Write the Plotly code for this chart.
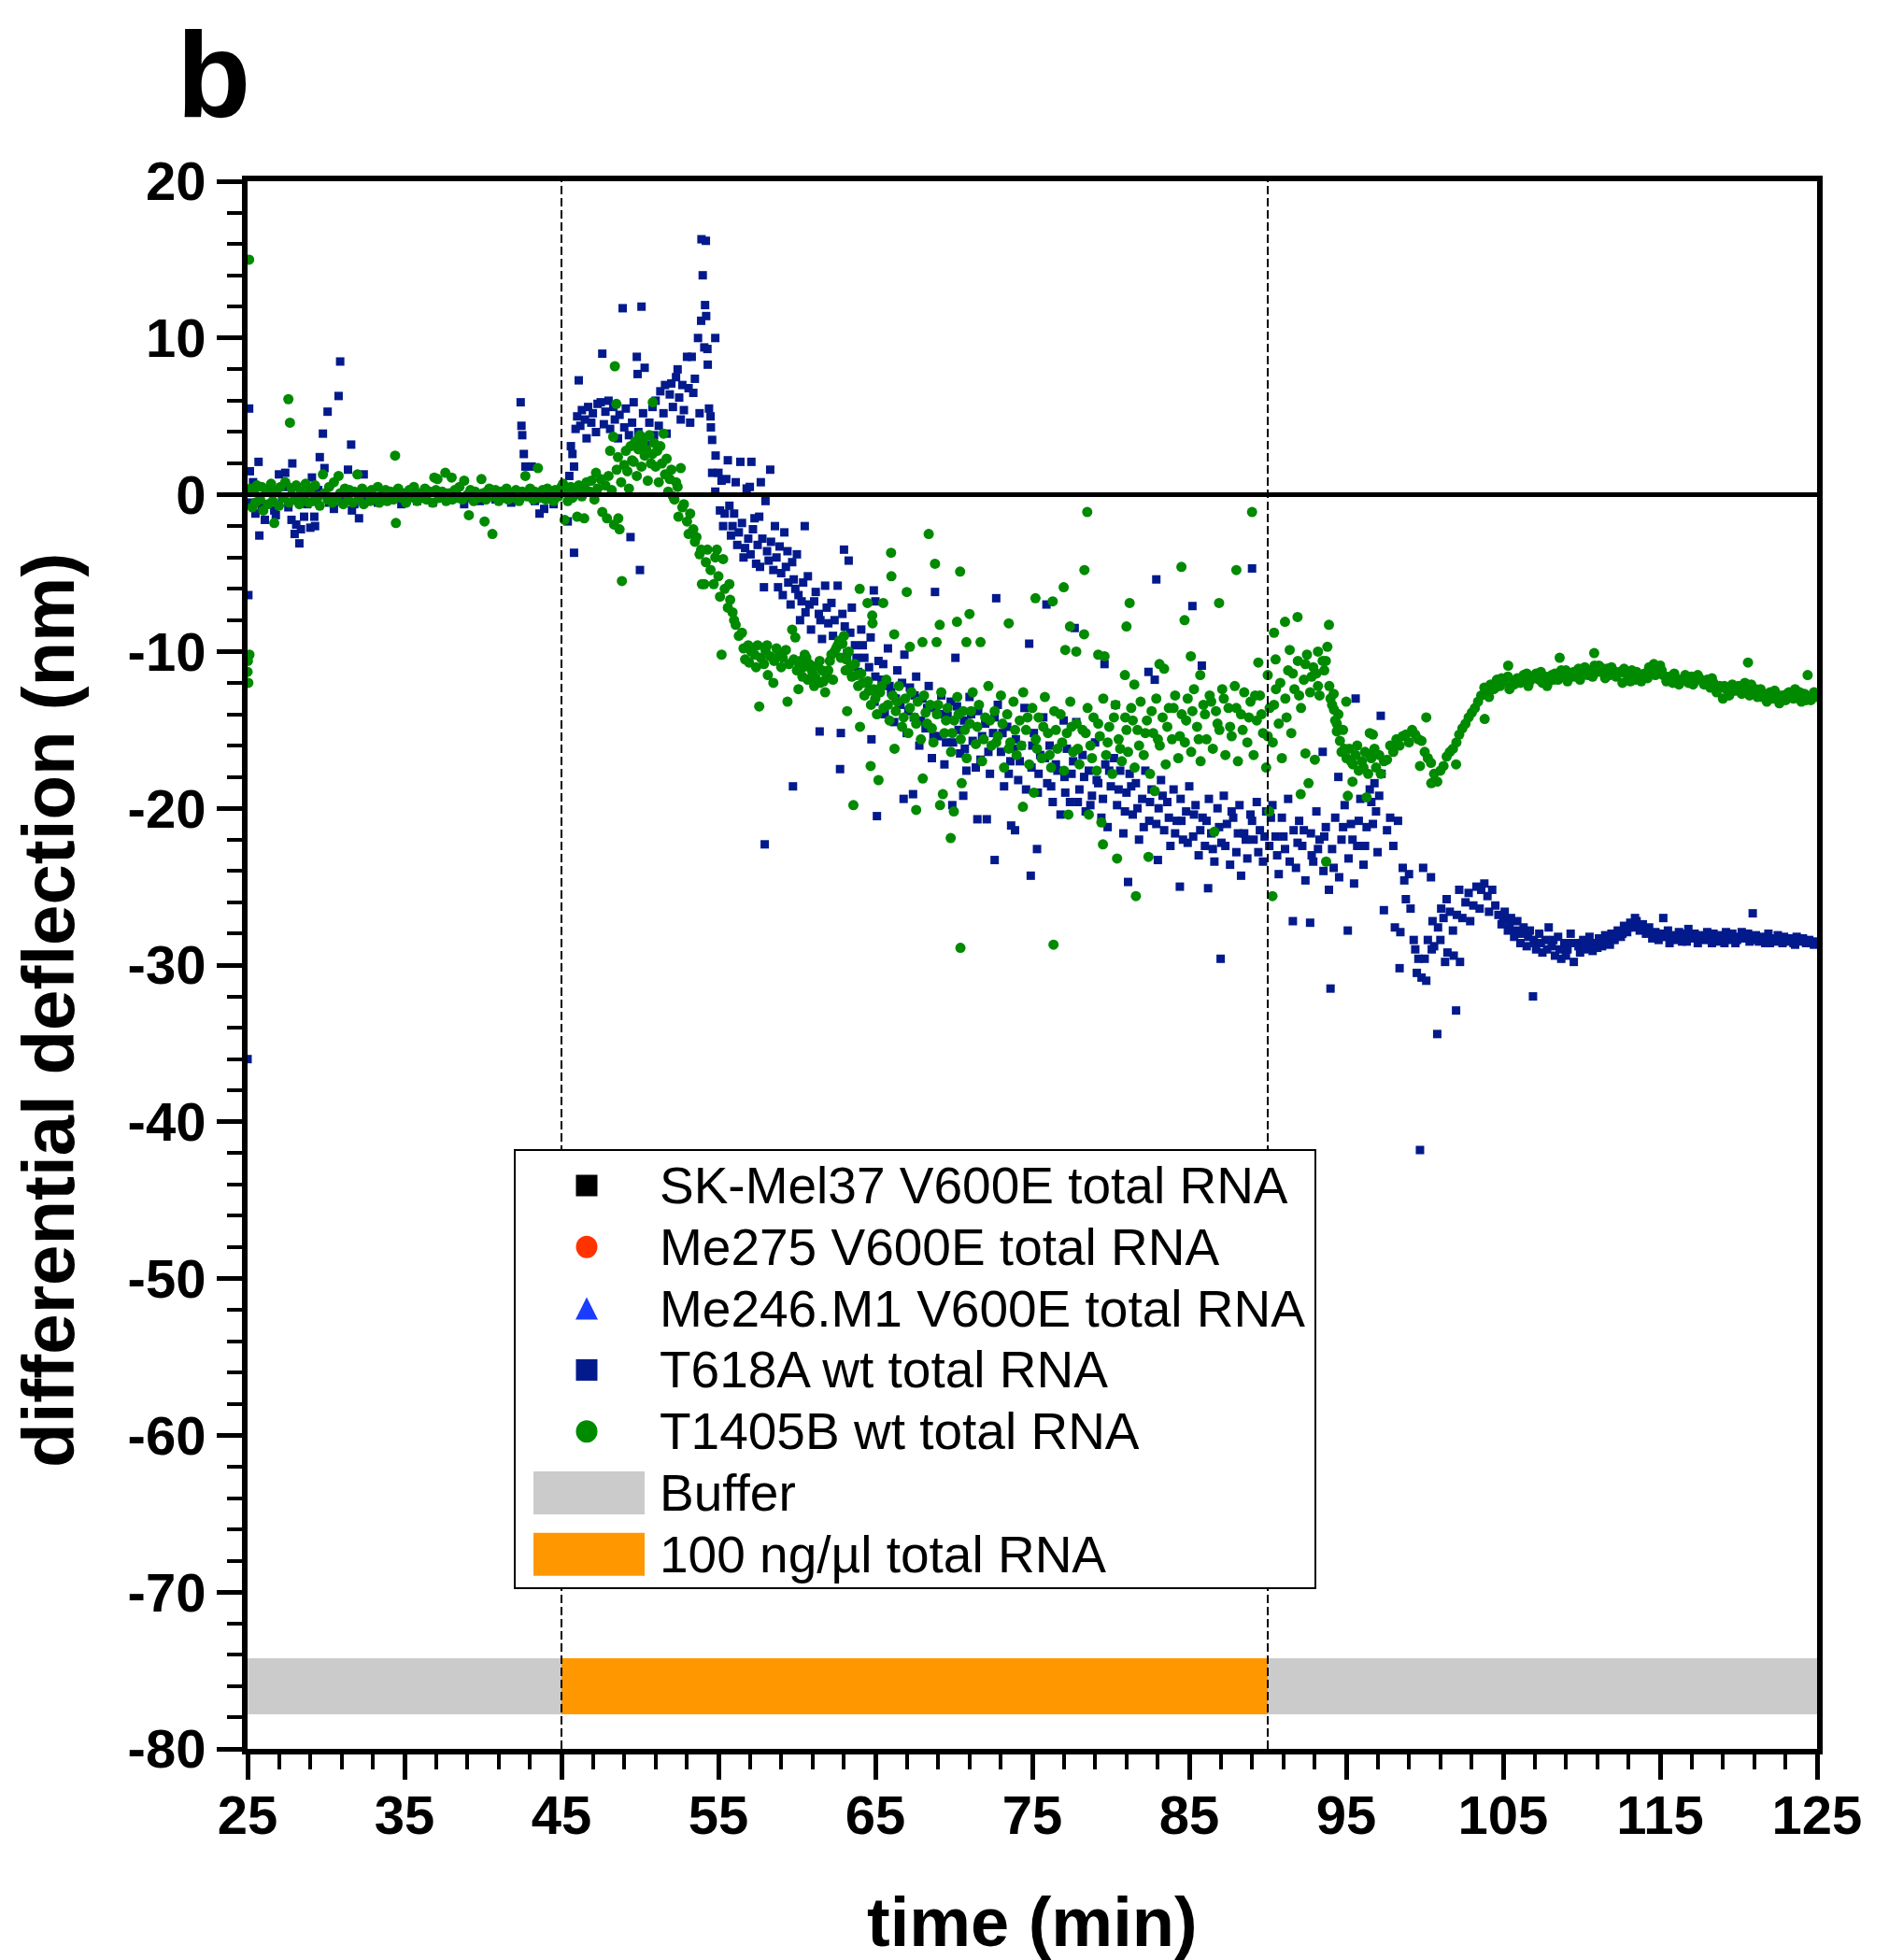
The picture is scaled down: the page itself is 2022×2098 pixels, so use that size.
import plotly.graph_objects as go

# ---------------- data ----------------
x_ticks = [25, 35, 45, 55, 65, 75, 85, 95, 105, 115, 125]
x_tick_text = ["25", "35", "45", "55", "65", "75", "85", "95", "105", "115", "125"]
y_ticks = [20, 10, 0, -10, -20, -30, -40, -50, -60, -70, -80]
y_tick_text = ["20", "10", "0", "-10", "-20", "-30", "-40", "-50", "-60", "-70", "-80"]

series_names = ["SK-Mel37 V600E total RNA", "Me275 V600E total RNA",
                "Me246.M1 V600E total RNA", "T618A wt total RNA",
                "T1405B wt total RNA"]
band_names = ["Buffer", "100 ng/µl total RNA"]

# flow phases (min)
phase_start = [25, 45, 90]
phase_end = [45, 90, 125]
phase_kind = ["Buffer", "100 ng/µl total RNA", "Buffer"]
injection_times = [45, 90]

# T618A wt total RNA : (time min, differential deflection nm)
t618a_points = [
    (25.0, -36.0), (25.05, -6.4), (25.1, 5.5), (25.15, 1.5), (25.2, -0.5), (25.35, 0.8),
    (25.5, -1.2), (25.7, 2.1), (25.75, -2.6), (25.9, -0.8), (26.1, -1.6), (26.3, -0.6),
    (26.5, 0.4), (26.7, -1.0), (26.8, -1.3), (27.0, 1.3), (27.2, -0.2), (27.4, 1.4),
    (27.5, 0.5), (27.6, -0.8), (27.8, -1.6), (27.85, 2.0), (28.0, -2.5), (28.1, -1.9),
    (28.3, -3.1), (28.4, -2.2), (28.6, -1.4), (28.8, -0.6), (29.0, -2.1), (29.1, 1.1),
    (29.3, -2.0), (29.25, -1.4), (29.5, 0.3), (29.6, 2.4), (29.8, 3.9), (29.9, 1.7),
    (30.1, 5.3), (30.2, -0.5), (30.5, -0.9), (30.8, 6.3), (30.9, 8.5), (31.0, -0.4),
    (31.2, 0.2), (31.4, 1.6), (31.6, 3.2), (31.65, -1.0), (31.8, -0.6), (32.1, -1.5),
    (32.4, 1.3), (32.6, -0.4), (32.9, -0.2), (33.3, -0.5), (33.8, -0.3), (34.3, 0.2),
    (34.8, -0.6), (35.3, -0.2), (35.8, -0.4), (36.3, 0.3), (36.8, -0.5), (37.3, -0.1),
    (37.8, -0.3), (38.3, 0.1), (38.8, -0.6), (39.3, -0.2), (39.8, -0.4), (40.3, 0.2),
    (40.8, -0.3), (41.3, -0.1), (41.8, -0.5), (42.2, -0.2), (42.4, 5.9), (42.45, 4.4),
    (42.5, 3.8), (42.6, 2.6), (42.7, 1.8), (43.1, 1.8), (43.3, -0.4), (43.6, -1.2),
    (43.9, -0.9), (44.2, -0.3), (44.5, -0.6), (44.8, 0.0), (45.1, 0.4), (45.4, -1.7),
    (45.8, -3.7), (45.5, 1.2), (45.6, 3.1), (45.7, 2.6), (45.8, 1.8), (45.9, 4.2),
    (46.0, 5.0), (46.1, 7.3), (46.2, 4.4), (46.3, 5.4), (46.5, 4.8), (46.6, 3.6),
    (46.7, 5.6), (46.9, 4.6), (47.0, 5.2), (47.2, 4.0), (47.3, 5.8), (47.5, 5.9),
    (47.6, 9.0), (47.7, 4.5), (47.8, 5.3), (48.0, 6.0), (48.1, 4.2), (48.3, 5.6),
    (48.4, 4.8), (48.6, 3.6), (48.7, 5.1), (48.9, 11.9), (49.0, 4.3), (49.1, 5.5),
    (49.3, 3.8), (49.4, -2.7), (49.5, 4.6), (49.6, 5.9), (49.8, 8.8), (49.85, 7.7),
    (49.9, 4.0), (50.0, -4.8), (50.1, 12.0), (50.2, 5.2), (50.3, 8.1), (50.4, 3.2),
    (50.6, 4.6), (50.8, 5.6), (50.9, 3.8), (51.0, 6.0), (51.2, 4.4), (51.3, 6.6),
    (51.5, 5.2), (51.6, 7.0), (51.7, 3.9), (51.9, 6.4), (52.0, 7.1), (52.1, 5.6),
    (52.3, 7.5), (52.4, 8.0), (52.5, 6.2), (52.6, 4.8), (52.7, 7.0), (52.8, 5.4),
    (53.0, 8.8), (53.1, 6.8), (53.2, 4.6), (53.3, 8.8), (53.4, 6.5), (53.5, 7.4),
    (53.7, 10.0), (53.8, 5.2), (53.9, 11.1), (53.92, 16.3), (54.0, 14.0), (54.1, 9.4),
    (54.15, 12.1), (54.2, 16.2), (54.22, 11.4), (54.3, 9.3), (54.32, 8.3), (54.4, 5.5),
    (54.5, 5.0), (54.52, 4.3), (54.6, 3.5), (54.8, 10.0), (54.82, 2.5), (54.6, 1.4),
    (54.8, 0.2), (55.0, 1.4), (55.1, -1.0), (55.2, 0.9), (55.3, -2.0), (55.5, 1.0),
    (55.6, 2.2), (55.7, -0.7), (55.8, -2.6), (56.0, -1.2), (56.1, 0.8), (56.2, -3.2),
    (56.4, 2.1), (56.5, -1.8), (56.6, -4.0), (56.8, 0.4), (56.9, -2.8), (57.0, 0.5),
    (57.05, -3.8), (57.1, 2.1), (57.3, -1.5), (57.4, -4.4), (57.6, -1.4), (57.65, -4.6),
    (57.7, 0.8), (57.8, -2.8), (57.9, -5.9), (57.95, -22.3), (58.0, -0.4), (58.1, -3.6),
    (58.3, 1.6), (58.35, -3.0), (58.5, -4.8), (58.6, -2.0), (58.8, -5.9), (58.9, -3.3),
    (59.1, -6.4), (59.2, -2.4), (59.4, -3.6), (59.45, -5.6), (59.6, -7.0), (59.7, -4.3),
    (59.75, -18.6), (59.9, -6.0), (60.0, -3.8), (60.2, -8.0), (60.3, -6.8), (60.5, -2.0),
    (60.55, -7.5), (60.7, -5.2), (60.9, -8.6), (61.2, -6.2), (61.4, -7.6), (61.45, -15.1),
    (61.6, -9.2), (61.8, -5.8), (62.0, -8.2), (62.2, -6.9), (62.4, -8.0), (62.6, -5.8),
    (62.7, -9.3), (62.75, -17.5), (62.8, -15.2), (63.0, -3.5), (63.05, -8.4), (63.2, -10.1),
    (63.3, -4.2), (63.5, -7.2), (63.7, -9.6), (63.9, -11.3), (64.1, -8.6), (64.3, -10.4),
    (64.5, -12.0), (64.7, -9.1), (64.75, -15.6), (64.9, -6.1), (64.95, -13.2), (65.0, -6.8),
    (65.1, -20.5), (65.2, -10.6), (65.4, -11.8), (65.6, -14.0), (65.8, -9.8), (66.0, -12.6),
    (66.2, -14.5), (66.4, -11.2), (66.6, -13.4), (66.8, -19.4), (66.85, -10.2), (67.0, -15.2),
    (67.2, -12.3), (67.4, -19.1), (67.45, -14.2), (67.6, -11.6), (67.8, -16.0), (68.0, -13.0),
    (68.2, -14.9), (68.4, -12.2), (68.6, -16.8), (68.8, -6.2), (68.85, -13.6), (69.0, -15.4),
    (69.2, -12.8), (69.4, -17.2), (69.6, -14.1), (69.9, -19.8), (69.95, -15.8), (70.1, -10.4),
    (70.2, -13.5), (70.4, -16.5), (70.6, -19.2), (70.65, -14.4), (70.8, -17.6), (71.0, -12.9),
    (71.2, -15.7), (71.5, -20.7), (71.55, -13.8), (71.7, -16.9), (72.0, -14.6), (72.1, -20.7),
    (72.3, -17.8), (72.5, -15.2), (72.6, -23.3), (72.7, -6.6), (72.8, -13.4), (73.0, -16.4),
    (73.2, -18.6), (73.4, -14.8), (73.6, -17.0), (73.65, -21.1), (73.9, -21.4), (73.95, -15.6),
    (74.1, -18.2), (74.3, -16.0), (74.5, -13.6), (74.8, -9.5), (74.9, -24.3), (74.95, -17.4),
    (75.1, -15.2), (75.3, -22.6), (75.35, -19.0), (75.5, -16.6), (75.7, -14.2), (75.9, -7.0),
    (75.95, -18.4), (76.1, -16.0), (76.3, -19.6), (76.5, -17.2), (76.8, -20.4), (77.0, -14.4),
    (77.05, -18.0), (77.2, -16.2), (77.4, -19.6), (77.6, -17.0), (77.7, -8.5), (77.8, -14.5),
    (78.0, -18.8), (78.2, -16.6), (78.4, -20.2), (78.6, -17.6), (78.8, -19.2), (79.0, -15.8),
    (79.2, -18.4), (79.4, -20.6), (79.6, -10.8), (79.65, -17.2), (79.8, -21.2), (80.0, -18.6),
    (80.2, -16.8), (80.3, -13.4), (80.4, -19.8), (80.6, -17.6), (80.8, -21.6), (81.0, -19.0),
    (81.1, -24.7), (81.2, -17.8), (81.4, -20.4), (81.6, -18.4), (81.8, -22.0), (82.0, -19.4),
    (82.2, -17.6), (82.4, -11.3), (82.45, -20.8), (82.6, -18.8), (82.8, -11.8), (82.9, -5.4),
    (83.0, -23.3), (83.05, -20.0), (83.2, -18.2), (83.4, -21.4), (83.6, -19.6), (83.8, -22.4),
    (84.0, -18.8), (84.2, -20.8), (84.4, -25.0), (84.45, -19.4), (84.6, -22.0), (84.8, -20.2),
    (85.0, -18.6), (85.2, -7.1), (85.25, -21.8), (85.4, -19.8), (85.6, -23.0), (85.8, -10.9),
    (85.85, -20.6), (86.0, -22.4), (86.2, -25.1), (86.25, -19.4), (86.4, -21.6), (86.6, -23.4),
    (86.8, -20.0), (87.0, -29.6), (87.05, -22.2), (87.2, -19.2), (87.4, -21.0), (87.6, -23.6),
    (87.8, -20.6), (88.0, -22.8), (88.2, -19.8), (88.3, -24.3), (88.5, -21.6), (88.7, -23.2),
    (88.9, -20.4), (89.0, -4.7), (89.1, -22.0), (89.3, -19.6), (89.5, -21.4), (89.7, -23.4),
    (89.9, -20.2), (90.1, -22.4), (90.3, -19.8), (90.5, -21.8), (90.7, -24.2), (90.9, -20.6),
    (91.1, -22.6), (91.3, -19.4), (91.6, -27.2), (91.65, -21.4), (91.8, -23.8), (92.0, -20.8),
    (92.2, -22.4), (92.4, -24.6), (92.7, -27.3), (92.75, -21.6), (92.9, -23.4), (93.1, -20.2),
    (93.3, -22.0), (93.5, -16.4), (93.55, -24.0), (93.7, -21.2), (93.9, -25.2), (94.0, -31.5),
    (94.1, -22.6), (94.3, -20.6), (94.5, -18.0), (94.55, -24.4), (94.7, -22.0), (94.9, -19.8),
    (95.1, -27.8), (95.15, -23.2), (95.3, -21.0), (95.5, -24.8), (95.6, -13.0), (95.7, -22.4),
    (95.9, -19.4), (96.1, -23.6), (96.3, -21.2), (96.5, -18.8), (96.6, -19.6), (96.8, -18.4),
    (96.9, -20.2), (97.0, -22.8), (97.2, -14.1), (97.25, -17.8), (97.4, -26.5), (97.6, -21.4),
    (97.8, -20.6), (98.0, -22.4), (98.1, -27.6), (98.3, -20.8), (98.4, -30.2), (98.45, -27.9),
    (98.6, -23.8), (98.7, -24.6), (98.8, -25.8), (99.0, -24.2), (99.1, -26.4), (99.3, -28.4),
    (99.4, -29.0), (99.5, -30.5), (99.6, -29.6), (99.7, -41.8), (99.8, -30.8), (99.9, -23.8),
    (100.0, -29.6), (100.1, -31.0), (100.2, -28.4), (100.4, -24.4), (100.45, -29.0), (100.5, -27.2),
    (100.6, -28.8), (100.8, -34.4), (100.85, -27.6), (101.0, -28.4), (101.05, -26.4), (101.2, -27.0),
    (101.3, -29.8), (101.4, -25.8), (101.45, -29.2), (101.6, -26.6), (101.8, -27.8), (101.85, -29.4),
    (102.0, -32.9), (102.05, -26.8), (102.2, -25.2), (102.25, -29.8), (102.4, -27.0), (102.6, -26.0),
    (102.8, -25.4), (102.9, -27.2), (103.1, -26.2), (103.3, -25.0), (103.5, -26.4), (103.6, -25.2),
    (103.8, -24.8), (104.0, -25.6), (104.1, -26.6), (104.3, -25.2), (104.5, -26.2), (104.7, -26.8),
    (104.9, -27.4), (105.1, -26.6), (105.3, -27.8), (105.5, -27.0), (105.7, -28.2), (105.9, -27.2),
    (106.1, -28.6), (106.3, -27.6), (106.5, -28.8), (106.7, -27.8), (106.9, -32.0), (106.95, -28.4),
    (107.1, -29.0), (107.3, -28.0), (107.5, -29.2), (107.7, -28.4), (107.9, -27.6), (108.1, -28.8),
    (108.3, -29.4), (108.5, -28.2), (108.7, -29.6), (108.9, -28.6), (109.1, -29.0), (109.3, -28.0),
    (109.5, -29.8), (109.7, -28.6), (109.9, -29.2), (110.1, -28.4), (110.3, -28.9), (110.5, -28.2),
    (110.7, -29.1), (110.9, -28.6), (111.1, -28.3), (111.3, -28.8), (111.5, -28.1), (111.7, -28.5),
    (111.9, -28.0), (112.1, -28.4), (112.3, -27.8), (112.5, -28.2), (112.7, -27.5), (112.9, -27.9),
    (113.1, -27.3), (113.3, -27.6), (113.5, -27.2), (113.7, -27.8), (113.9, -27.4), (114.1, -28.0),
    (114.3, -27.6), (114.5, -28.3), (114.7, -27.9), (114.9, -28.4), (115.1, -28.0), (115.2, -27.0),
    (115.4, -28.2), (115.6, -28.6), (115.8, -28.1), (116.0, -28.4), (116.2, -27.9), (116.4, -28.5),
    (116.6, -28.0), (116.8, -27.7), (117.0, -28.3), (117.2, -28.0), (117.4, -28.6), (117.6, -28.1),
    (117.8, -28.4), (118.0, -27.9), (118.2, -28.3), (118.4, -28.0), (118.6, -28.5), (118.8, -28.1),
    (119.0, -28.3), (119.2, -27.9), (119.4, -28.4), (119.6, -28.0), (119.8, -28.6), (120.0, -28.2),
    (120.2, -27.9), (120.4, -28.3), (120.6, -28.0), (120.9, -26.7), (120.95, -28.4), (121.1, -28.1),
    (121.3, -28.5), (121.5, -28.2), (121.7, -28.6), (121.9, -28.0), (122.1, -28.3), (122.3, -28.5),
    (122.5, -28.1), (122.7, -28.4), (122.9, -28.2), (123.1, -28.5), (123.3, -28.3), (123.5, -28.6),
    (123.7, -28.2), (123.9, -28.5), (124.1, -28.3), (124.3, -28.6), (124.5, -28.4), (124.7, -28.6),
    (124.9, -28.5),
    # denser readings of the cloud and the tail
    (55.4, -1.2), (55.9, -2.0), (56.3, -2.4), (56.7, -3.4), (57.2, -2.2), (57.5, -3.2),
    (58.2, -4.2), (58.7, -4.0), (59.0, -5.0), (59.3, -4.6), (59.8, -5.4), (60.1, -6.4),
    (60.4, -5.6), (60.8, -7.0), (61.1, -6.8), (61.5, -8.0), (61.9, -7.2), (62.3, -9.0),
    (62.9, -7.6), (63.4, -8.8), (63.8, -10.4), (64.2, -9.6), (64.6, -11.0), (65.0, -11.6),
    (65.5, -10.8), (65.9, -12.2), (66.3, -13.0), (66.7, -12.0), (67.1, -13.8), (67.5, -12.8),
    (67.9, -14.4), (68.3, -13.6), (68.7, -15.4), (69.1, -14.0), (69.5, -15.8), (69.8, -13.2),
    (70.3, -15.0), (70.7, -16.2), (71.1, -14.0), (71.4, -17.4), (71.8, -15.4), (72.2, -16.4),
    (72.6, -14.2), (73.1, -15.2), (73.5, -17.8), (73.8, -16.2), (74.2, -17.0), (74.6, -18.8),
    (75.0, -16.0), (75.4, -17.8), (75.8, -16.8), (76.2, -18.6), (76.6, -17.6), (77.1, -19.0),
    (77.5, -17.8), (77.9, -19.6), (78.3, -18.0), (78.7, -19.8), (79.1, -18.2), (79.5, -19.4),
    (79.9, -17.6), (80.5, -18.8), (80.9, -20.2), (81.3, -18.6), (81.7, -20.0), (82.1, -21.2),
    (82.5, -19.6), (82.9, -21.0), (83.3, -19.2), (83.7, -20.6), (84.1, -21.6), (84.5, -20.8),
    (84.9, -22.2), (85.3, -20.4), (85.7, -21.4), (86.1, -20.8), (86.5, -22.6), (86.9, -21.2),
    (87.3, -22.4), (87.7, -20.2), (88.1, -21.6), (88.6, -22.0), (89.0, -20.8), (89.4, -22.8),
    (89.8, -21.8), (90.2, -20.6), (90.6, -23.0), (91.0, -21.8), (91.4, -23.4), (91.9, -22.2),
    (92.3, -21.4), (92.8, -23.0), (93.2, -22.6), (93.6, -21.8), (94.2, -23.8), (94.8, -21.2),
    (95.4, -22.0), (95.8, -20.8), (96.2, -22.4), (96.7, -21.0), (97.1, -19.2),
    (105.0, -27.0), (105.4, -27.4), (105.8, -27.8), (106.2, -28.0), (106.6, -28.2), (107.0, -28.6),
    (107.4, -28.6), (107.8, -29.0), (108.2, -28.4), (108.6, -29.0), (109.0, -29.4), (109.4, -28.6),
    (109.8, -28.8), (110.2, -29.0), (110.6, -28.6), (111.0, -28.9), (111.4, -28.4), (111.8, -28.7),
    (112.2, -28.1), (112.6, -28.0), (113.0, -27.6), (113.4, -27.0), (113.8, -27.6), (114.2, -27.8),
    (114.6, -28.0), (115.0, -28.2), (115.5, -27.8), (115.9, -28.3), (116.3, -28.2), (116.7, -28.5),
    (117.1, -28.1), (117.5, -28.3), (117.9, -28.2), (118.3, -28.6), (118.7, -28.3), (119.1, -28.6),
    (119.5, -28.2), (119.9, -28.4), (120.3, -28.1), (120.7, -28.5), (121.2, -28.3), (121.6, -28.4),
    (122.0, -28.6), (122.4, -28.3), (122.8, -28.6), (123.2, -28.4), (123.6, -28.7), (124.0, -28.4),
    (124.4, -28.5), (124.8, -28.7),
]

# T1405B wt total RNA : (time min, differential deflection nm)
t1405b_points = [
    (25.0, -11.3), (25.02, -10.6), (25.05, -12.0), (25.1, 15.0), (25.12, -10.2), (25.2, 0.4),
    (25.3, -0.8), (25.4, 0.2), (25.5, -0.5), (25.6, 0.6), (25.8, -0.3), (25.9, 0.5),
    (26.0, -1.0), (26.2, 0.3), (26.3, -0.6), (26.5, 0.7), (26.6, -0.4), (26.7, -1.8),
    (26.8, 0.2), (27.0, -0.7), (27.1, 0.5), (27.3, -0.2), (27.4, 0.8), (27.6, 6.1),
    (27.65, -0.5), (27.7, 4.6), (27.8, 0.4), (28.0, -0.3), (28.1, 0.6), (28.3, -0.6),
    (28.4, 0.2), (28.6, -0.2), (28.7, 0.7), (28.9, -0.5), (29.0, 0.3), (29.2, -0.4),
    (29.3, 0.6), (29.5, -0.1), (29.6, -0.7), (29.8, 1.3), (29.9, 0.1), (30.1, -0.3),
    (30.2, 0.5), (30.4, -0.5), (30.5, 0.8), (30.7, -0.2), (30.8, 1.2), (30.9, 0.1),
    (31.1, -0.6), (31.2, 0.4), (31.4, -0.3), (31.5, 0.3), (31.7, -0.5), (31.8, 0.2),
    (32.0, 1.3), (32.1, -0.2), (32.3, 0.4), (32.4, -0.6), (32.6, 0.1), (32.8, -0.4),
    (32.9, 0.3), (33.1, -0.2), (33.3, 0.5), (33.4, -0.5), (33.6, 0.0), (33.8, 0.3),
    (33.9, -0.4), (34.1, 0.2), (34.3, -0.3), (34.4, 2.5), (34.45, -1.8), (34.6, 0.4),
    (34.8, -0.2), (34.9, 0.1), (35.1, -0.5), (35.3, 0.3), (35.4, -0.1), (35.6, 0.5),
    (35.8, -0.4), (35.9, 0.1), (36.1, -0.2), (36.3, 0.4), (36.4, -0.3), (36.6, 0.2),
    (36.8, -0.5), (36.9, 1.1), (37.0, 0.3), (37.1, 1.0), (37.2, -0.2), (37.4, 0.2),
    (37.6, 1.4), (37.65, -0.4), (37.8, 0.1), (38.0, 1.1), (38.05, -0.3), (38.2, 0.3),
    (38.4, -0.2), (38.5, 0.5), (38.7, -0.3), (38.8, 0.9), (39.0, 0.0), (39.1, -1.3),
    (39.2, 0.3), (39.4, -0.4), (39.5, 0.2), (39.7, -0.2), (39.9, 1.0), (40.0, 0.1),
    (40.1, -1.7), (40.2, -0.3), (40.4, 0.4), (40.6, -2.5), (40.65, -0.1), (40.8, 0.3),
    (41.0, -0.4), (41.1, 0.2), (41.3, -0.2), (41.5, 0.4), (41.6, -0.3), (41.8, 0.1),
    (42.0, -0.2), (42.1, 0.3), (42.3, -0.4), (42.5, 0.2), (42.7, 1.2), (42.8, -0.1),
    (43.0, 0.4), (43.2, -0.3), (43.3, 0.2), (43.5, 1.7), (43.6, -0.2), (43.8, 0.3),
    (44.0, -0.3), (44.1, 0.4), (44.3, 0.0), (44.5, -0.4), (44.6, 0.3), (44.8, -0.1),
    (45.0, 0.5), (45.1, 0.7), (45.2, -1.6), (45.3, 0.2), (45.4, -0.4), (45.6, 0.5),
    (45.7, -0.2), (45.9, 0.3), (46.0, -1.4), (46.1, 0.6), (46.3, -0.1), (46.4, 0.4),
    (46.45, -1.5), (46.6, 0.8), (46.8, 0.2), (46.9, 0.9), (47.1, -0.3), (47.2, 1.4),
    (47.3, 0.4), (47.5, 1.0), (47.6, -1.1), (47.8, 0.6), (47.9, -1.5), (48.0, 1.2),
    (48.1, 2.8), (48.2, 0.3), (48.3, 3.7), (48.35, -1.9), (48.4, 8.2), (48.5, 5.8),
    (48.52, 1.6), (48.6, 2.4), (48.62, -1.5), (48.7, -2.2), (48.8, 0.8), (48.85, -5.5),
    (49.0, 1.9), (49.1, 2.8), (49.2, 1.5), (49.3, 0.4), (49.4, 3.1), (49.5, 2.2),
    (49.6, 2.1), (49.7, 3.4), (49.8, 1.2), (49.9, 2.9), (50.0, 3.8), (50.1, 1.8),
    (50.2, 3.4), (50.3, 2.5), (50.4, 2.9), (50.5, 0.9), (50.6, 3.8), (50.7, 2.0),
    (50.8, 2.6), (50.82, 5.9), (50.9, 3.3), (51.0, 1.8), (51.1, 2.8), (51.2, 0.8),
    (51.3, 3.1), (51.4, 2.0), (51.5, 3.9), (51.6, 1.3), (51.7, 2.3), (51.8, 0.2),
    (51.9, 1.0), (52.0, 1.6), (52.1, -0.1), (52.2, -0.3), (52.3, 0.8), (52.4, 0.5),
    (52.45, -1.4), (52.6, 1.7), (52.7, -0.8), (52.8, -0.6), (53.0, -1.7), (53.1, -2.5),
    (53.2, -1.2), (53.4, -2.2), (53.5, -3.0), (53.6, -2.7), (53.8, -3.8), (53.9, -3.5),
    (53.95, -5.7), (54.1, -5.7), (54.2, -4.3), (54.3, -3.5), (54.5, -4.8), (54.7, -5.7),
    (54.8, -4.0), (54.9, -3.5), (55.0, -5.2), (55.1, -6.5), (55.2, -10.2), (55.3, -4.1),
    (55.4, -6.0), (55.6, -7.2), (55.7, -5.7), (55.75, -6.7), (55.9, -7.5), (56.0, -8.0),
    (56.1, -8.3), (56.3, -9.0), (56.5, -8.8), (56.6, -9.8), (56.7, -10.5), (56.9, -9.6),
    (56.95, -10.7), (57.1, -10.0), (57.3, -10.2), (57.4, -11.0), (57.5, -9.6), (57.6, -13.5),
    (57.7, -10.4), (57.9, -10.8), (58.0, -9.9), (58.1, -9.6), (58.15, -11.5), (58.3, -10.3),
    (58.5, -12.0), (58.55, -10.6), (58.7, -9.8), (58.9, -10.2), (59.0, -11.0), (59.1, -10.4),
    (59.3, -9.9), (59.4, -13.2), (59.5, -10.8), (59.7, -8.6), (59.8, -10.5), (59.9, -9.1),
    (60.0, -11.2), (60.1, -12.4), (60.2, -10.6), (60.4, -11.0), (60.5, -10.2), (60.7, -11.8),
    (60.8, -10.8), (61.0, -11.4), (61.1, -12.2), (61.3, -10.9), (61.5, -12.0), (61.6, -11.2),
    (61.8, -12.6), (61.9, -11.5), (62.1, -10.6), (62.3, -11.8), (62.4, -10.0), (62.6, -9.6),
    (62.7, -9.3), (62.8, -10.4), (63.0, -9.0), (63.1, -11.2), (63.2, -13.8), (63.3, -10.0),
    (63.5, -11.6), (63.6, -19.8), (63.7, -10.8), (63.9, -12.2), (64.0, -6.0), (64.02, -14.8),
    (64.1, -11.4), (64.3, -12.8), (64.5, -6.9), (64.52, -11.9), (64.7, -17.3), (64.72, -13.4),
    (64.8, -7.7), (64.82, -8.2), (64.9, -12.4), (65.1, -14.0), (65.2, -18.2), (65.3, -12.6),
    (65.5, -6.9), (65.52, -13.6), (65.7, -11.8), (65.9, -14.4), (66.0, -3.7), (66.02, -5.2),
    (66.1, -12.8), (66.2, -8.9), (66.22, -16.2), (66.3, -13.8), (66.5, -12.2), (66.7, -14.8),
    (66.9, -13.0), (67.0, -6.2), (67.1, -15.2), (67.2, -9.7), (67.3, -12.6), (67.5, -14.2),
    (67.6, -20.1), (67.7, -13.2), (67.9, -15.6), (68.0, -9.4), (68.02, -18.1), (68.1, -12.8),
    (68.3, -14.6), (68.4, -2.5), (68.5, -13.4), (68.7, -15.8), (68.8, -4.4), (68.9, -9.4),
    (68.92, -14.0), (69.1, -8.3), (69.12, -19.8), (69.2, -12.6), (69.3, -19.1), (69.4, -15.2),
    (69.6, -13.6), (69.8, -21.9), (69.82, -16.4), (70.0, -20.2), (70.02, -14.4), (70.2, -8.1),
    (70.22, -12.9), (70.4, -4.9), (70.42, -28.9), (70.44, -15.6), (70.5, -18.4), (70.6, -13.8),
    (70.8, -9.4), (70.82, -16.8), (71.0, -7.6), (71.02, -14.6), (71.2, -12.6), (71.4, -15.9),
    (71.6, -13.4), (71.7, -9.4), (71.8, -17.0), (72.0, -14.2), (72.2, -12.2), (72.4, -16.0),
    (72.6, -13.8), (72.8, -15.4), (73.0, -12.8), (73.2, -17.4), (73.4, -14.0), (73.5, -8.2),
    (73.6, -15.8), (73.8, -13.2), (74.0, -16.6), (74.2, -14.4), (74.4, -19.9), (74.42, -12.6),
    (74.6, -15.0), (74.8, -17.2), (75.0, -13.6), (75.1, -19.0), (75.2, -6.6), (75.22, -15.6),
    (75.4, -14.2), (75.6, -16.8), (75.8, -12.9), (76.0, -15.2), (76.2, -17.4), (76.3, -6.8),
    (76.35, -28.7), (76.4, -13.8), (76.6, -16.2), (76.8, -14.0), (77.0, -5.9), (77.02, -17.6),
    (77.1, -9.9), (77.2, -15.2), (77.3, -20.4), (77.4, -8.4), (77.42, -13.2), (77.6, -16.4),
    (77.8, -10.0), (77.82, -14.6), (78.0, -17.2), (78.2, -15.0), (78.3, -8.9), (78.32, -4.8),
    (78.5, -1.1), (78.52, -13.6), (78.6, -20.4), (78.7, -16.0), (78.9, -14.2), (79.1, -17.6),
    (79.2, -10.2), (79.3, -15.4), (79.4, -20.9), (79.5, -22.3), (79.52, -13.0), (79.6, -10.3),
    (79.7, -16.6), (79.9, -14.8), (80.1, -17.8), (80.3, -13.4), (80.4, -23.2), (80.5, -15.6),
    (80.7, -17.0), (80.9, -11.5), (80.92, -14.2), (81.0, -8.4), (81.1, -16.4), (81.2, -6.9),
    (81.3, -13.6), (81.5, -12.1), (81.52, -17.4), (81.6, -25.6), (81.7, -15.0), (81.9, -13.2),
    (82.1, -16.6), (82.3, -14.4), (82.4, -23.1), (82.5, -17.8), (82.7, -15.2), (82.8, -18.9),
    (82.9, -13.0), (83.1, -10.8), (83.12, -16.0), (83.3, -14.2), (83.4, -11.1), (83.5, -17.2),
    (83.7, -13.6), (83.9, -15.6), (84.1, -12.8), (84.3, -16.8), (84.5, -4.6), (84.52, -14.0),
    (84.7, -8.0), (84.72, -15.8), (84.9, -13.0), (85.1, -10.3), (85.12, -16.4), (85.3, -12.4),
    (85.5, -14.8), (85.7, -11.5), (85.72, -17.0), (85.9, -13.4), (86.1, -15.6), (86.3, -12.8),
    (86.5, -16.2), (86.6, -21.5), (86.7, -13.8), (86.9, -6.9), (86.92, -15.0), (87.1, -12.4),
    (87.3, -16.6), (87.5, -13.6), (87.7, -15.4), (87.9, -12.2), (88.0, -4.8), (88.1, -17.0),
    (88.3, -14.0), (88.5, -12.6), (88.7, -15.8), (88.9, -13.2), (89.0, -1.1), (89.1, -16.6),
    (89.3, -14.4), (89.4, -10.7), (89.5, -12.8), (89.7, -15.2), (89.9, -17.4), (90.0, -11.5),
    (90.1, -20.2), (90.12, -13.6), (90.3, -25.6), (90.32, -15.8), (90.4, -8.8), (90.5, -10.5),
    (90.52, -12.4), (90.7, -14.6), (90.9, -16.8), (91.1, -8.1), (91.12, -13.0), (91.3, -11.2),
    (91.4, -9.9), (91.5, -15.2), (91.7, -12.4), (91.9, -7.8), (91.92, -10.6), (92.1, -19.1),
    (92.12, -13.6), (92.3, -11.8), (92.4, -16.5), (92.5, -10.2), (92.6, -18.4), (92.7, -12.6),
    (92.9, -11.0), (93.0, -16.9), (93.1, -11.4), (93.2, -10.0), (93.3, -12.8), (93.5, -10.6),
    (93.7, -10.6), (93.72, -23.4), (93.8, -9.7), (93.9, -8.3), (93.92, -12.2), (94.0, -13.0),
    (94.2, -12.7), (94.22, -13.7), (94.3, -14.4), (94.4, -15.1), (94.5, -14.0), (94.6, -15.7),
    (94.7, -16.4), (94.8, -15.0), (95.0, -13.2), (95.02, -16.8), (95.1, -19.2), (95.2, -16.2),
    (95.4, -18.3), (95.42, -17.2), (95.6, -16.6), (95.8, -17.6), (96.0, -17.0), (96.2, -16.4),
    (96.3, -19.3), (96.4, -17.8), (96.5, -15.2), (96.6, -16.8), (96.7, -15.3), (96.8, -16.2),
    (96.9, -17.4), (97.1, -16.6), (97.2, -17.8), (97.4, -17.0), (97.6, -16.9), (97.8, -16.0),
    (98.0, -16.4), (98.2, -15.6), (98.4, -16.0), (98.6, -15.4), (98.8, -15.3), (99.0, -15.8),
    (99.2, -15.0), (99.4, -15.3), (99.6, -15.6), (99.7, -17.3), (99.8, -15.7), (100.0, -16.4),
    (100.1, -14.2), (100.2, -16.8), (100.4, -17.1), (100.42, -18.4), (100.6, -17.8), (100.8, -18.3),
    (101.0, -17.6), (101.2, -17.3), (101.4, -16.7), (101.6, -16.4), (101.8, -16.2), (102.0, -17.2),
    (102.02, -15.8), (102.2, -15.3), (102.4, -14.9), (102.6, -14.6), (102.8, -14.2), (103.0, -13.9),
    (103.2, -13.6), (103.4, -13.2), (103.6, -12.8), (103.8, -12.3), (103.82, -14.3), (104.0, -12.6),
    (104.2, -12.1), (104.4, -12.4), (104.6, -11.8), (104.8, -12.2), (105.0, -11.9), (105.3, -11.6),
    (105.32, -10.9), (105.5, -12.2), (105.7, -12.1), (105.9, -11.7), (106.1, -12.0), (106.3, -11.5),
    (106.5, -11.4), (106.7, -11.9), (106.9, -11.6), (107.1, -11.4), (107.3, -11.8), (107.5, -12.0),
    (107.7, -11.6), (107.9, -11.9), (108.1, -11.5), (108.3, -11.4), (108.5, -11.8), (108.6, -10.4),
    (108.8, -11.6), (109.0, -11.2), (109.2, -11.7), (109.4, -11.4), (109.6, -11.6), (109.8, -11.1),
    (110.0, -11.4), (110.2, -11.0), (110.4, -11.5), (110.6, -11.2), (110.8, -10.1), (110.82, -10.9),
    (111.0, -11.3), (111.2, -11.0), (111.4, -11.4), (111.6, -11.1), (111.8, -11.5), (112.0, -11.2),
    (112.2, -11.6), (112.4, -11.3), (112.6, -12.0), (112.8, -11.4), (113.0, -11.7), (113.2, -11.2),
    (113.4, -11.8), (113.6, -11.5), (113.8, -11.9), (114.0, -11.4), (114.2, -11.7), (114.4, -11.2),
    (114.6, -10.8), (114.8, -11.3), (115.0, -10.9), (115.2, -11.5), (115.4, -11.9), (115.6, -11.6),
    (115.8, -12.0), (116.0, -11.7), (116.2, -12.1), (116.4, -11.8), (116.6, -11.5), (116.8, -12.0),
    (117.0, -11.6), (117.2, -11.9), (117.4, -11.5), (117.6, -11.8), (117.8, -12.1), (118.0, -11.8),
    (118.2, -12.3), (118.4, -12.0), (118.6, -12.6), (118.8, -12.2), (119.0, -13.0), (119.2, -12.4),
    (119.4, -12.8), (119.6, -12.1), (119.8, -12.5), (120.0, -12.2), (120.2, -12.7), (120.4, -12.0),
    (120.6, -10.7), (120.62, -12.4), (120.8, -12.1), (121.0, -12.6), (121.2, -12.9), (121.4, -12.4),
    (121.6, -12.8), (121.8, -13.2), (122.0, -12.6), (122.2, -13.0), (122.4, -12.7), (122.6, -13.3),
    (122.8, -12.8), (123.0, -13.1), (123.2, -12.6), (123.4, -12.9), (123.6, -12.4), (123.8, -12.8),
    (124.0, -13.2), (124.2, -12.7), (124.4, -11.5), (124.42, -12.9), (124.6, -13.1), (124.8, -12.6),
    (125.0, -12.9),
    # denser readings of the cloud and the tail
    (60.15, -10.8), (60.35, -11.6), (60.6, -10.4), (60.9, -11.1), (61.2, -11.7), (61.45, -10.6),
    (61.7, -11.9), (62.0, -11.2), (62.2, -10.2), (62.5, -9.8), (62.9, -9.5), (63.15, -10.5),
    (63.4, -11.0), (63.8, -11.5), (64.2, -12.0), (64.6, -12.5), (65.0, -13.0), (65.4, -12.2),
    (65.8, -13.4), (66.4, -13.2), (66.8, -14.2), (67.2, -13.6), (67.6, -14.6), (68.2, -13.9),
    (68.6, -14.9), (69.0, -13.4), (69.5, -14.4), (69.9, -15.2), (70.3, -14.0), (70.7, -15.0),
    (71.1, -13.8), (71.5, -14.8), (71.9, -15.6), (72.3, -14.4), (72.7, -15.8), (73.1, -14.6),
    (73.5, -16.2), (73.9, -15.0), (74.3, -16.0), (74.7, -14.2), (75.3, -16.2), (75.7, -14.8),
    (76.1, -16.6), (76.5, -15.0), (76.9, -15.8), (77.5, -14.8), (77.9, -16.2), (78.4, -15.2),
    (78.8, -16.8), (79.2, -14.6), (79.8, -15.8), (80.2, -14.2), (80.6, -16.2), (81.0, -15.0),
    (81.4, -14.4), (81.8, -16.0), (82.2, -15.2), (82.6, -13.8), (83.0, -15.6), (83.6, -14.8),
    (84.0, -13.6), (84.4, -15.4), (84.8, -14.4), (85.2, -13.8), (85.6, -15.6), (86.0, -14.0),
    (86.4, -13.2), (86.8, -14.6), (87.2, -13.0), (87.6, -14.8), (88.0, -13.6), (88.4, -15.0),
    (88.8, -14.2), (89.2, -12.8), (89.6, -14.0), (90.0, -15.4), (90.4, -13.4), (90.8, -12.0),
    (91.2, -14.2), (91.6, -11.4), (92.0, -12.8), (92.4, -10.8), (92.8, -11.6), (93.2, -12.2),
    (93.6, -11.2), (94.1, -13.4), (94.4, -14.6), (94.9, -16.2), (95.3, -17.0), (95.7, -16.0),
    (96.1, -17.4), (96.5, -16.6),
    (104.1, -12.9), (104.5, -12.3), (104.9, -11.7), (105.4, -12.4), (105.8, -11.9), (106.2, -11.8),
    (106.6, -12.2), (107.0, -11.7), (107.4, -11.3), (107.8, -12.2), (108.2, -11.8), (108.7, -11.2),
    (109.1, -11.9), (109.5, -11.3), (109.9, -11.8), (110.3, -11.2), (110.7, -11.6), (111.1, -10.9),
    (111.5, -11.7), (111.9, -11.0), (112.3, -11.4), (112.7, -11.1), (113.1, -11.9), (113.5, -11.3),
    (113.9, -11.6), (114.3, -11.0), (114.7, -11.5), (115.1, -11.2), (115.5, -11.7), (115.9, -11.4),
    (116.3, -11.9), (116.7, -11.6), (117.1, -12.1), (117.5, -11.7), (117.9, -12.0), (118.3, -11.7),
    (118.7, -12.3), (119.1, -12.2), (119.5, -12.6), (119.9, -12.3), (120.3, -12.4), (120.7, -12.8),
    (121.1, -12.4), (121.5, -12.9), (121.9, -12.7), (122.3, -12.5), (122.7, -13.1), (123.1, -12.7),
    (123.5, -13.0), (123.9, -12.6), (124.3, -13.1), (124.7, -12.8),
]

# ---------------- styling ----------------
FONT = "Liberation Sans"
NAVY = "#031A8C"
GREEN = "#008A00"
legend_colors = ["#000000", "#FF3300", "#1A3CFF", NAVY, GREEN]
band_colors = {"Buffer": "#CBCBCB", "100 ng/µl total RNA": "#FF9800"}
BAND_LO, BAND_HI = -77.8, -74.2

W, H = 2022, 2098
ML, MR, MT, MB = 257, 85, 186, 234
PW, PH = W - ML - MR, H - MT - MB


def px_x(p):
    return (p - ML) / PW


def px_y(p):
    return (H - MB - p) / PH


fig = go.Figure()

# flow-phase bands as bars on the data axes
fig.add_trace(go.Bar(
    x=[(s + e) / 2 for s, e in zip(phase_start, phase_end)],
    width=[e - s for s, e in zip(phase_start, phase_end)],
    y=[BAND_HI - BAND_LO] * len(phase_start),
    base=[BAND_LO] * len(phase_start),
    marker=dict(color=[band_colors[k] for k in phase_kind], line=dict(width=0)),
    showlegend=False, hoverinfo="skip",
))

fig.add_trace(go.Scatter(
    x=[p[0] for p in t618a_points], y=[p[1] for p in t618a_points],
    mode="markers", name=series_names[3],
    marker=dict(symbol="square", size=9, color=NAVY, line=dict(width=0)),
    showlegend=False,
))
fig.add_trace(go.Scatter(
    x=[p[0] for p in t1405b_points], y=[p[1] for p in t1405b_points],
    mode="markers", name=series_names[4],
    marker=dict(symbol="circle", size=11, color=GREEN, line=dict(width=0)),
    showlegend=False,
))

shapes = []
# zero line
shapes.append(dict(type="line", xref="x", yref="y", x0=25, x1=125, y0=0, y1=0,
                   line=dict(color="black", width=5), layer="above"))
# injection markers
for t in injection_times:
    shapes.append(dict(type="line", xref="x", yref="y", x0=t, x1=t, y0=-80, y1=20,
                       line=dict(color="black", width=2, dash="9px,4px"), layer="above"))

# ---------- legend (drawn by hand) ----------
LEG_L, LEG_R, LEG_T, LEG_B = 543, 1400, 1223, 1692
shapes.append(dict(type="rect", xref="paper", yref="paper",
                   x0=px_x(LEG_L), x1=px_x(LEG_R), y0=px_y(LEG_B), y1=px_y(LEG_T),
                   fillcolor="white", line=dict(color="black", width=2), layer="above"))
row_y = [1261 + 65.8 * i for i in range(7)]
SYM_X, TXT_X = 620, 696
symbols = ["square", "circle", "triangle", "square", "circle"]
for i, (name, col, sym) in enumerate(zip(series_names, legend_colors, symbols)):
    ax, ay = px_x(SYM_X), px_y(row_y[i])
    common = dict(xref="paper", yref="paper", xsizemode="pixel", ysizemode="pixel",
                  xanchor=ax, yanchor=ay, fillcolor=col, line=dict(width=0),
                  layer="above")
    if sym == "square":
        shapes.append(dict(type="rect", x0=-11.5, x1=11.5, y0=-11.5, y1=11.5, **common))
    elif sym == "circle":
        shapes.append(dict(type="circle", x0=-11.5, x1=11.5, y0=-12, y1=12, **common))
    else:
        shapes.append(dict(type="path", path="M-12,-12 L12,-12 L0,12 Z", **common))

annotations = []
for i, name in enumerate(series_names + band_names):
    annotations.append(dict(text=name, xref="paper", yref="paper",
                            x=px_x(TXT_X), y=px_y(row_y[i]), xanchor="left",
                            yanchor="middle", showarrow=False,
                            font=dict(family=FONT, size=55, color="black")))
for j, name in enumerate(band_names):
    r = row_y[5 + j]
    shapes.append(dict(type="rect", xref="paper", yref="paper",
                       x0=px_x(563), x1=px_x(682), y0=px_y(r + 23), y1=px_y(r - 23),
                       fillcolor=band_colors[name], line=dict(width=0), layer="above"))

# panel letter and axis titles
annotations.append(dict(text="b", xref="paper", yref="paper", x=px_x(220), y=px_y(72),
                        xanchor="center", yanchor="middle", showarrow=False,
                        font=dict(family=FONT, size=130, color="black", weight="bold")))
annotations.append(dict(text="time (min)", xref="paper", yref="paper", x=0.5,
                        y=px_y(2049), xanchor="center", yanchor="middle", showarrow=False,
                        font=dict(family=FONT, size=74, color="black", weight="bold")))
annotations.append(dict(text="differential deflection (nm)", xref="paper", yref="paper",
                        x=px_x(44), y=px_y(1074), xanchor="center", yanchor="middle",
                        textangle=-90, showarrow=False,
                        font=dict(family=FONT, size=78, color="black", weight="bold")))

axis_common = dict(
    showgrid=False, zeroline=False, showline=True, linecolor="black", linewidth=6,
    mirror=True, ticks="outside", ticklen=27, tickwidth=5, tickcolor="black",
    tickfont=dict(family=FONT, size=58, color="black", weight="bold"),
)
fig.update_layout(
    width=W, height=H,
    margin=dict(l=ML, r=MR, t=MT, b=MB, pad=0),
    paper_bgcolor="white", plot_bgcolor="white",
    showlegend=False, bargap=0,
    xaxis=dict(range=[25, 125], tickvals=x_ticks, ticktext=x_tick_text,
               ticklabelstandoff=-12,
               minor=dict(dtick=2, tick0=25, ticks="outside", ticklen=16, tickwidth=4,
                          tickcolor="black"),
               **axis_common),
    yaxis=dict(range=[-80, 20], tickvals=y_ticks, ticktext=y_tick_text,
               minor=dict(dtick=2, tick0=0, ticks="outside", ticklen=16, tickwidth=4,
                          tickcolor="black"),
               **axis_common),
    shapes=shapes, annotations=annotations,
)

fig.write_html("out.html")
